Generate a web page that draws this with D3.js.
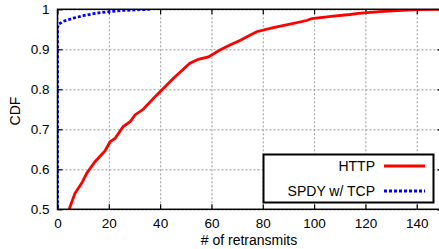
<!DOCTYPE html>
<html>
<head>
<meta charset="utf-8">
<script src="https://cdn.jsdelivr.net/npm/d3@7"></script>
<style>
  body { margin: 0; background: #fff; }
  text { font-family: "Liberation Sans", Arial, sans-serif; }
  .grid line { stroke: #999; stroke-dasharray: 2,2; stroke-width: 1; }
  .grid .domain { display: none; }
  .axis .domain { display: none; }
  .axis line { stroke: #000; stroke-width: 1.2; }
  .axis text { font-size: 13.5px; fill: #000; }
</style>
</head>
<body>
<div id="chart"></div>
<script>
// HTTP retransmit CDF
const httpX = [4.75, 4.75, 6.8, 9.4, 11.4, 14.6, 18.5, 20.5, 22.4, 25.6, 28.3, 30.2, 33.4, 38.7, 45.1, 51.6, 54.9, 58.8, 63.3, 67.2, 71.1, 74.4, 77.6, 84.1, 90.6, 97.1, 99.1, 107.5, 114, 117.2, 127, 140, 150];
const httpY = [0.49, 0.504, 0.54, 0.565, 0.59, 0.619, 0.646, 0.669, 0.677, 0.707, 0.719, 0.736, 0.75, 0.786, 0.827, 0.865, 0.875, 0.881, 0.898, 0.911, 0.922, 0.933, 0.944, 0.954, 0.963, 0.972, 0.977, 0.983, 0.987, 0.99, 0.995, 0.999, 1.0];

// SPDY w/ TCP retransmit CDF
const spdyX = [0, 0, 0.3, 2.3, 6.2, 10, 14, 18.5, 25, 32, 36];
const spdyY = [0.49, 0.953, 0.962, 0.97, 0.978, 0.984, 0.989, 0.993, 0.997, 0.999, 1.0];

const xTicks = [0, 20, 40, 60, 80, 100, 120, 140];
const yTicks = [0.5, 0.6, 0.7, 0.8, 0.9, 1];
const seriesNames = ['HTTP', 'SPDY w/ TCP'];
const seriesColors = ['#ff0000', '#0000ff'];

const W = 439, H = 249;
const margin = {top: 9.3, right: -3.4, bottom: 39.7, left: 57.5};
const width = W - margin.left - margin.right,
      height = H - margin.top - margin.bottom;

const svg = d3.select('#chart').append('svg')
    .attr('width', W).attr('height', H);

const x = d3.scaleLinear().domain([0, 150]).range([0, width]);
const y = d3.scaleLinear().domain([0.5, 1]).range([height, 0]);

const g = svg.append('g')
    .attr('transform', 'translate(' + margin.left + ',' + margin.top + ')');

// gridlines
g.append('g').attr('class', 'grid')
    .call(d3.axisBottom(x).tickValues(xTicks).tickSize(height).tickFormat(''));
g.append('g').attr('class', 'grid')
    .call(d3.axisLeft(y).tickValues(yTicks).tickSize(-width).tickFormat(''));

// axes with inward ticks
g.append('g').attr('class', 'axis')
    .attr('transform', 'translate(0,' + height + ')')
    .call(d3.axisBottom(x).tickValues(xTicks).tickSizeInner(-5).tickSizeOuter(0).tickPadding(9));
g.append('g').attr('class', 'axis')
    .call(d3.axisTop(x).tickValues(xTicks).tickSizeInner(-5).tickSizeOuter(0).tickFormat(''));
g.append('g').attr('class', 'axis')
    .call(d3.axisLeft(y).tickValues(yTicks).tickSizeInner(-5).tickSizeOuter(0).tickPadding(8)
        .tickFormat(d => d === 1 ? '1' : d.toFixed(1)));
g.append('g').attr('class', 'axis')
    .attr('transform', 'translate(' + width + ',0)')
    .call(d3.axisRight(y).tickValues(yTicks).tickSizeInner(-5).tickSizeOuter(0).tickFormat(''));

// clip
svg.append('defs').append('clipPath').attr('id', 'clip')
  .append('rect').attr('width', width).attr('height', height);

const line = d3.line().x(d => x(d[0])).y(d => y(d[1]));

const plot = g.append('g').attr('clip-path', 'url(#clip)');
plot.append('path')
    .datum(httpX.map((v, i) => [v, httpY[i]]))
    .attr('fill', 'none').attr('stroke', seriesColors[0]).attr('stroke-width', 2.8)
    .attr('d', line);
plot.append('path')
    .datum(spdyX.map((v, i) => [v, spdyY[i]]))
    .attr('fill', 'none').attr('stroke', seriesColors[1]).attr('stroke-width', 2.8)
    .attr('stroke-dasharray', '3,2')
    .attr('d', line);

// frame
g.append('rect')
    .attr('width', width).attr('height', height)
    .attr('fill', 'none').attr('stroke', '#000').attr('stroke-width', 1.5);

// axis titles
svg.append('text')
    .attr('x', 249).attr('y', 245)
    .attr('text-anchor', 'middle').attr('font-size', 14)
    .text('# of retransmits');
svg.append('text')
    .attr('transform', 'translate(20,111) rotate(-90)')
    .attr('text-anchor', 'middle').attr('font-size', 14)
    .text('CDF');

// legend
const leg = svg.append('g');
leg.append('rect')
    .attr('x', 263.5).attr('y', 154.5).attr('width', 170).attr('height', 48)
    .attr('fill', '#fff').attr('stroke', '#000').attr('stroke-width', 2);
seriesNames.forEach(function(name, i) {
    const yy = 166 + i * 25;
    leg.append('text')
        .attr('x', 375).attr('y', yy + 5)
        .attr('text-anchor', 'end').attr('font-size', 14)
        .text(name);
    leg.append('line')
        .attr('x1', 384).attr('x2', 425).attr('y1', yy).attr('y2', yy)
        .attr('stroke', seriesColors[i]).attr('stroke-width', 2.8)
        .attr('stroke-dasharray', i === 1 ? '3,2' : null);
});
</script>
</body>
</html>
